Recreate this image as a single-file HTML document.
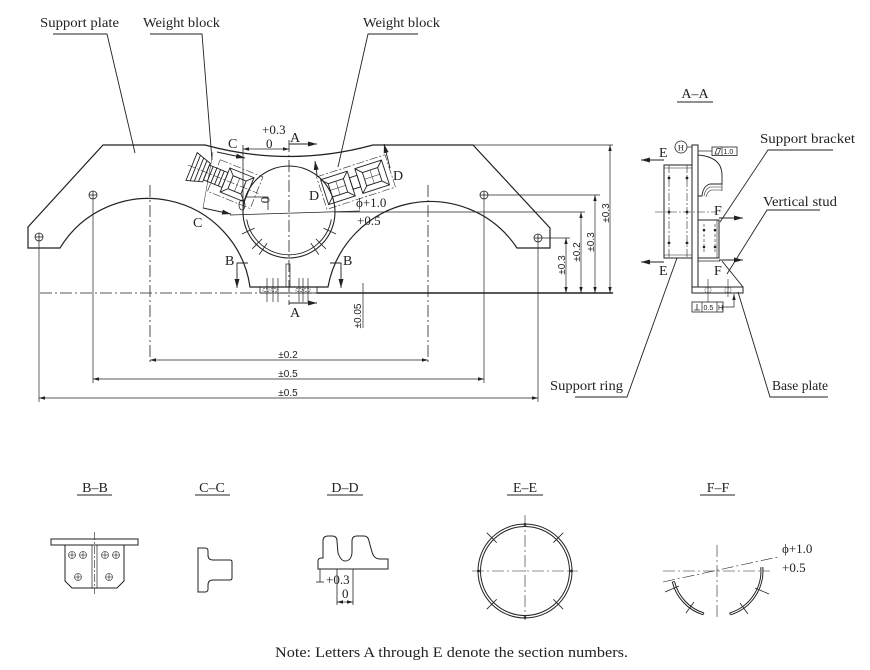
<!DOCTYPE html>
<html><head><meta charset="utf-8"><style>
html,body{margin:0;padding:0;background:#fff;}
svg{display:block;}
text{font-family:"Liberation Serif",serif;fill:#222;}
.s{font-family:"Liberation Sans",sans-serif;}
</style></head><body>
<svg width="870" height="670" viewBox="0 0 870 670" xmlns="http://www.w3.org/2000/svg">
<defs>
<marker id="ar" markerWidth="9" markerHeight="6" refX="9" refY="3" orient="auto-start-reverse" markerUnits="userSpaceOnUse"><path d="M0,0.5 L9,3 L0,5.5 z" fill="#222"/></marker>
<marker id="as" markerWidth="6" markerHeight="4" refX="6" refY="2" orient="auto-start-reverse" markerUnits="userSpaceOnUse"><path d="M0,0.3 L6,2 L0,3.7 z" fill="#222"/></marker>
</defs>

<g fill="none" stroke="#222" stroke-width="1">
<!-- labels leaders -->
<polyline points="53,34 107,34 135,153" stroke-width="0.9"/>
<polyline points="150,34 202,34 212,160" stroke-width="0.9"/>
<polyline points="418,34 368,34 338,167" stroke-width="0.9"/>

<!-- main outline -->
<path d="M103,145 L205,145 Q289,168 373,145 L473,145 L550,228 L550,248 L517,248 A104,104 0 0 0 328,287 L250,287 A103,103 0 0 0 60,248 L28,248 L28,227 Z" stroke-width="1.2"/>

<!-- centerlines -->
<g stroke-width="0.8" stroke-dasharray="12,3,2,3">
<line x1="150" y1="185" x2="150" y2="362"/>
<line x1="428" y1="185" x2="428" y2="362"/>
<line x1="289" y1="140" x2="289" y2="305"/>
<line x1="40" y1="293" x2="317" y2="293"/>
</g>
<line x1="317" y1="293" x2="613" y2="293" stroke-width="1.4"/>

<!-- holes -->
<g stroke-width="0.8">
<circle cx="39" cy="237" r="4"/><line x1="35" y1="237" x2="43" y2="237"/><line x1="39" y1="233" x2="39" y2="241"/>
<circle cx="93" cy="195" r="4"/><line x1="89" y1="195" x2="97" y2="195"/><line x1="93" y1="191" x2="93" y2="199"/>
<circle cx="484" cy="195" r="4"/><line x1="480" y1="195" x2="488" y2="195"/><line x1="484" y1="191" x2="484" y2="199"/>
<circle cx="538" cy="238" r="4"/><line x1="534" y1="238" x2="542" y2="238"/><line x1="538" y1="234" x2="538" y2="242"/>
</g>

<!-- extension lines -->
<g stroke-width="0.7">
<line x1="39" y1="241" x2="39" y2="402"/>
<line x1="93" y1="199" x2="93" y2="383"/>
<line x1="484" y1="199" x2="484" y2="383"/>
<line x1="538" y1="242" x2="538" y2="402"/>
<line x1="488" y1="195" x2="600" y2="195"/>
<line x1="335" y1="212" x2="585" y2="212"/>
<line x1="542" y1="238" x2="570" y2="238"/>
<line x1="473" y1="145" x2="613" y2="145"/>
<line x1="363" y1="283" x2="363" y2="328"/>
</g>
<!-- dims -->
<g stroke-width="0.7" marker-start="url(#as)" marker-end="url(#as)">
<line x1="566" y1="238" x2="566" y2="293"/>
<line x1="581" y1="212" x2="581" y2="293"/>
<line x1="595" y1="195" x2="595" y2="293"/>
<line x1="610" y1="145" x2="610" y2="293"/>
<line x1="150" y1="360" x2="428" y2="360"/>
<line x1="93" y1="379" x2="484" y2="379"/>
<line x1="39" y1="398" x2="538" y2="398"/>
<line x1="243" y1="149" x2="289" y2="149"/>
</g>

<!-- central circle -->
<circle cx="289" cy="212" r="46" stroke-width="1.1"/>
<path d="M246.7,219.5 A43,43 0 0 0 331.3,219.5" stroke-width="0.9"/>
<g stroke-width="0.8">
<line x1="254.6" y1="228.1" x2="241.9" y2="234"/>
<line x1="262.1" y1="238.9" x2="252.2" y2="248.8"/>
<line x1="267.2" y1="243.1" x2="259.2" y2="254.6"/>
<line x1="323.4" y1="228.1" x2="336.1" y2="234"/>
<line x1="315.9" y1="238.9" x2="325.8" y2="248.8"/>
<line x1="310.8" y1="243.1" x2="318.8" y2="254.6"/>
<line x1="230" y1="215" x2="360" y2="211"/>
<line x1="243" y1="145" x2="243" y2="212"/>
<polyline points="245,197 268,197 268,210"/>
<ellipse cx="242" cy="205" rx="3" ry="5"/>
</g>

<!-- bottom strip -->
<rect x="260" y="287" width="57" height="6" stroke-width="0.8"/>
<g stroke-width="0.5" stroke-dasharray="2,1">
<rect x="263" y="288.5" width="6" height="3"/><rect x="271" y="288.5" width="6" height="3"/>
<rect x="296" y="288.5" width="6" height="3"/><rect x="304" y="288.5" width="6" height="3"/>
</g>
<g stroke-width="0.7">
<line x1="267" y1="278" x2="267" y2="302"/><line x1="273" y1="278" x2="273" y2="302"/><line x1="278" y1="278" x2="278" y2="302"/>
<line x1="299" y1="278" x2="299" y2="302"/><line x1="303" y1="278" x2="303" y2="302"/><line x1="308" y1="278" x2="308" y2="302"/>
<rect x="286" y="264" width="4" height="23"/>
</g>

<!-- section marks -->
<g stroke-width="0.9">
<line x1="289" y1="144" x2="317" y2="144" marker-end="url(#ar)"/>
<line x1="289" y1="303" x2="317" y2="303" marker-end="url(#ar)"/>
<polyline points="248,263 237,263 237,288" marker-end="url(#ar)"/>
<polyline points="330,263 341,263 341,288" marker-end="url(#ar)"/>
<line x1="217" y1="152" x2="245" y2="158" marker-end="url(#ar)"/>
<line x1="203" y1="208" x2="231" y2="214" marker-end="url(#ar)"/>
<line x1="213" y1="152" x2="203" y2="208" stroke-width="0.5"/>
<line x1="317" y1="175" x2="315" y2="161" marker-end="url(#ar)"/>
<line x1="390" y1="168" x2="384" y2="144" marker-end="url(#ar)"/>
</g>

<!-- left weight block -->
<g transform="translate(225,180) rotate(22)" stroke-width="0.9">
<rect x="-12" y="-17" width="46" height="34" stroke-width="0.6" stroke-dasharray="8,2,2,2"/>
<polygon points="-36,-15 -20,-10 -20,10 -36,15"/>
<line x1="-32" y1="-13.8" x2="-32" y2="13.8"/><line x1="-28" y1="-12.5" x2="-28" y2="12.5"/><line x1="-24" y1="-11.3" x2="-24" y2="11.3"/>
<rect x="-20" y="-8" width="20" height="16"/>
<line x1="-16" y1="-8" x2="-16" y2="8"/><line x1="-12" y1="-8" x2="-12" y2="8"/><line x1="-8" y1="-8" x2="-8" y2="8"/><line x1="-4" y1="-8" x2="-4" y2="8"/>
<rect x="0" y="-13" width="26" height="26"/>
<rect x="6" y="-7" width="14" height="14"/>
<line x1="0" y1="-13" x2="6" y2="-7"/><line x1="26" y1="-13" x2="20" y2="-7"/><line x1="0" y1="13" x2="6" y2="7"/><line x1="26" y1="13" x2="20" y2="7"/>
<line x1="13" y1="-7" x2="13" y2="7" stroke-width="0.5"/>
<line x1="-40" y1="0" x2="36" y2="0" stroke-width="0.5" stroke-dasharray="8,2,2,2"/>
</g>

<!-- right weight block -->
<g transform="translate(356,182) rotate(-18)" stroke-width="0.9">
<rect x="-36" y="-17" width="72" height="34" stroke-width="0.6" stroke-dasharray="8,2,2,2"/>
<rect x="-33" y="-13" width="28" height="26"/>
<rect x="-27" y="-7" width="16" height="14"/>
<line x1="-33" y1="-13" x2="-27" y2="-7"/><line x1="-5" y1="-13" x2="-11" y2="-7"/><line x1="-33" y1="13" x2="-27" y2="7"/><line x1="-5" y1="13" x2="-11" y2="7"/>
<line x1="-19" y1="-7" x2="-19" y2="7" stroke-width="0.5"/><line x1="-27" y1="0" x2="-11" y2="0" stroke-width="0.5"/>
<rect x="-5" y="-6" width="8" height="12"/>
<rect x="3" y="-13" width="28" height="26"/>
<rect x="9" y="-7" width="16" height="14"/>
<line x1="3" y1="-13" x2="9" y2="-7"/><line x1="31" y1="-13" x2="25" y2="-7"/><line x1="3" y1="13" x2="9" y2="7"/><line x1="31" y1="13" x2="25" y2="7"/>
<line x1="17" y1="-7" x2="17" y2="7" stroke-width="0.5"/><line x1="9" y1="0" x2="25" y2="0" stroke-width="0.5"/>
</g>

<!-- A-A section -->
<line x1="677" y1="102" x2="713" y2="102" stroke-width="0.9"/>
<rect x="692" y="145" width="6" height="142" stroke-width="1"/>
<rect x="664" y="165" width="28" height="93" stroke-width="1"/>
<line x1="664" y1="168" x2="692" y2="168" stroke-width="0.6"/>
<line x1="664" y1="255" x2="692" y2="255" stroke-width="0.6"/>
<g stroke-width="0.6" stroke-dasharray="8,2,2,2">
<line x1="669" y1="165" x2="669" y2="258"/><line x1="687" y1="165" x2="687" y2="258"/>
<line x1="655" y1="212" x2="717" y2="212"/>
</g>
<g fill="#222" stroke="none">
<circle cx="669" cy="178" r="1.4"/><circle cx="669" cy="212" r="1.4"/><circle cx="669" cy="243" r="1.4"/>
<circle cx="687" cy="178" r="1.4"/><circle cx="687" cy="212" r="1.4"/><circle cx="687" cy="243" r="1.4"/>
<circle cx="704" cy="230" r="1.3"/><circle cx="704" cy="247" r="1.3"/><circle cx="715" cy="230" r="1.3"/><circle cx="715" cy="247" r="1.3"/>
</g>
<path d="M698,155 Q710,156 716,161 Q722,166 722,175 L722,184 L710,184 Q703,186 702,196 L698,196" stroke-width="0.9"/>
<path d="M722,187 L710,187 Q705,189 704,196 M722,190 L711,190 Q707,192 706,197 M722,184 L722,191" stroke-width="0.6"/>
<rect x="698" y="220" width="21" height="38" stroke-width="1"/>
<line x1="717" y1="220" x2="717" y2="258" stroke-width="0.6"/>
<g stroke-width="0.6" stroke-dasharray="3,2">
<line x1="704" y1="224" x2="704" y2="253"/><line x1="715" y1="224" x2="715" y2="253"/>
</g>
<line x1="698" y1="261" x2="720" y2="261" stroke-width="0.8"/>
<line x1="722" y1="261" x2="743" y2="287" stroke-width="0.9"/>
<rect x="692" y="287" width="51" height="6" stroke-width="1"/>
<g stroke-width="0.5" stroke-dasharray="1.5,1">
<rect x="705" y="288" width="6" height="4"/><rect x="725" y="288" width="6" height="4"/>
</g>
<g stroke-width="0.6">
<line x1="708" y1="279" x2="708" y2="302"/><line x1="728" y1="279" x2="728" y2="297"/>
</g>
<g stroke-width="0.9">
<line x1="664" y1="160" x2="641" y2="160" marker-end="url(#ar)"/>
<line x1="664" y1="262" x2="641" y2="262" marker-end="url(#ar)"/>
<line x1="719" y1="218" x2="743" y2="218" marker-end="url(#ar)"/>
<line x1="719" y1="260" x2="743" y2="260" marker-end="url(#ar)"/>
</g>
<circle cx="681" cy="147" r="6" stroke-width="0.8"/>
<line x1="687" y1="147" x2="692" y2="147" stroke-width="0.7"/>
<line x1="698" y1="151" x2="712" y2="151" stroke-width="0.7"/>
<rect x="712" y="147" width="25" height="8.5" stroke-width="0.8"/>
<line x1="722" y1="147" x2="722" y2="155.5" stroke-width="0.7"/>
<polygon points="715,154 717,148.5 720.5,148.5 718.5,154" stroke-width="0.7"/>
<rect x="692" y="302" width="31" height="10" stroke-width="0.8"/>
<line x1="702" y1="302" x2="702" y2="312" stroke-width="0.7"/>
<line x1="717" y1="302" x2="717" y2="312" stroke-width="0.7"/>
<path d="M697,304 L697,310 M694,310 L700,310" stroke-width="0.8"/>
<polyline points="723,307 734,307 734,294" stroke-width="0.7" marker-end="url(#as)"/>
<!-- leaders A-A -->
<g stroke-width="0.9">
<polyline points="833,150 768,150 720,222"/>
<polyline points="820,210 767,210 727,274"/>
<polyline points="575,397 627,397 677,258"/>
<polyline points="828,397 770,397 738,292"/>
</g>

<!-- section titles underlines -->
<g stroke-width="0.9">
<line x1="77" y1="495" x2="112" y2="495"/>
<line x1="195" y1="495" x2="230" y2="495"/>
<line x1="327" y1="495" x2="363" y2="495"/>
<line x1="507" y1="495" x2="543" y2="495"/>
<line x1="700" y1="495" x2="735" y2="495"/>
</g>

<!-- B-B -->
<rect x="51" y="539" width="87" height="6" stroke-width="1"/>
<path d="M65,545 L65,581 L72,588 L117,588 L124,581 L124,545" stroke-width="1"/>
<line x1="92" y1="545" x2="92" y2="588" stroke-width="0.7"/>
<line x1="97" y1="545" x2="97" y2="588" stroke-width="0.7"/>
<line x1="94.5" y1="532" x2="94.5" y2="594" stroke-width="0.6" stroke-dasharray="8,2,2,2"/>
<g stroke-width="0.6">
<circle cx="72" cy="555" r="3.5"/><line x1="68.5" y1="555" x2="75.5" y2="555"/><line x1="72" y1="551.5" x2="72" y2="558.5"/>
<circle cx="83" cy="555" r="3.5"/><line x1="79.5" y1="555" x2="86.5" y2="555"/><line x1="83" y1="551.5" x2="83" y2="558.5"/>
<circle cx="105" cy="555" r="3.5"/><line x1="101.5" y1="555" x2="108.5" y2="555"/><line x1="105" y1="551.5" x2="105" y2="558.5"/>
<circle cx="116" cy="555" r="3.5"/><line x1="112.5" y1="555" x2="119.5" y2="555"/><line x1="116" y1="551.5" x2="116" y2="558.5"/>
<circle cx="78" cy="577" r="3.5"/><line x1="74.5" y1="577" x2="81.5" y2="577"/><line x1="78" y1="573.5" x2="78" y2="580.5"/>
<circle cx="109" cy="577" r="3.5"/><line x1="105.5" y1="577" x2="112.5" y2="577"/><line x1="109" y1="573.5" x2="109" y2="580.5"/>
</g>

<!-- C-C -->
<path d="M198,548 L205,548 Q208,548 208,551 L208,555 Q208,560 213,560 L230,560 Q232,560 232,562 L232,578 Q232,580 230,580 L213,580 Q208,580 208,585 L208,589 Q208,592 205,592 L198,592 Z" stroke-width="1"/>

<!-- D-D -->
<path d="M318,569 L318,561 Q318,558 322,558 L323,558 L323,541 Q323,536 328,536 L332,536 Q337,536 337,541 L338,553 Q341,561 345,561 Q351,561 352,553 L352,541 Q352,536 357,536 L364,536 Q368,536 369,541 L372,552 Q374,559 380,559 L388,559 L388,569 Z" stroke-width="1"/>
<g stroke-width="0.8">
<line x1="320" y1="569" x2="320" y2="582"/><line x1="316" y1="582" x2="324" y2="582"/>
<line x1="337" y1="569" x2="337" y2="605"/><line x1="353" y1="569" x2="353" y2="605"/>
</g>
<line x1="337" y1="602" x2="353" y2="602" stroke-width="0.7" marker-start="url(#as)" marker-end="url(#as)"/>

<!-- E-E -->
<circle cx="525" cy="571" r="47" stroke-width="1"/>
<circle cx="525" cy="571" r="44.5" stroke-width="1"/>
<g stroke-width="0.6" stroke-dasharray="12,3,2,3">
<line x1="472" y1="571" x2="578" y2="571"/>
<line x1="525" y1="515" x2="525" y2="620"/>
</g>
<g stroke-width="0.8">
<line x1="496.7" y1="542.7" x2="486.8" y2="532.8"/>
<line x1="553.3" y1="542.7" x2="563.2" y2="532.8"/>
<line x1="496.7" y1="599.3" x2="486.8" y2="609.2"/>
<line x1="553.3" y1="599.3" x2="563.2" y2="609.2"/>
</g>
<g fill="#222" stroke="none">
<circle cx="525" cy="524.5" r="1.4"/><circle cx="525" cy="617.5" r="1.4"/><circle cx="478.5" cy="571" r="1.4"/><circle cx="571.5" cy="571" r="1.4"/>
</g>

<!-- F-F -->
<g stroke-width="0.6" stroke-dasharray="12,3,2,3">
<line x1="717" y1="545" x2="717" y2="620"/>
<line x1="663" y1="571" x2="770" y2="571"/>
<line x1="663" y1="582" x2="778" y2="557"/>
</g>
<path d="M672.3,582 A46,46 0 0 0 703,614.8" stroke-width="1"/>
<path d="M674.5,581.5 A44,44 0 0 0 704,613" stroke-width="1"/>
<line x1="672.3" y1="582" x2="674.5" y2="581.5" stroke-width="0.8"/>
<line x1="703" y1="614.8" x2="704" y2="613" stroke-width="0.8"/>
<path d="M730.5,614.8 A46,46 0 0 0 762.8,567" stroke-width="1"/>
<path d="M729.5,613 A44,44 0 0 0 760.8,567.2" stroke-width="1"/>
<line x1="730.5" y1="614.8" x2="729.5" y2="613" stroke-width="0.8"/>
<g stroke-width="0.8">
<line x1="679" y1="586" x2="665" y2="592"/>
<line x1="694" y1="602" x2="686" y2="613"/>
<line x1="755" y1="588" x2="769" y2="594"/>
<line x1="740" y1="603" x2="748" y2="614"/>
</g>
</g>

<!-- TEXT -->
<g font-size="13.5">
<text x="40" y="27" textLength="79" lengthAdjust="spacingAndGlyphs">Support plate</text>
<text x="143" y="27" textLength="77" lengthAdjust="spacingAndGlyphs">Weight block</text>
<text x="363" y="27" textLength="77" lengthAdjust="spacingAndGlyphs">Weight block</text>
<text x="760" y="143" textLength="95" lengthAdjust="spacingAndGlyphs">Support bracket</text>
<text x="763" y="206" textLength="74" lengthAdjust="spacingAndGlyphs">Vertical stud</text>
<text x="550" y="390" textLength="73" lengthAdjust="spacingAndGlyphs">Support ring</text>
<text x="772" y="390" textLength="56" lengthAdjust="spacingAndGlyphs">Base plate</text>
</g>
<g font-size="14">
<text x="695" y="98" text-anchor="middle">A–A</text>
<text x="95" y="492" text-anchor="middle">B–B</text>
<text x="212" y="492" text-anchor="middle">C–C</text>
<text x="345" y="492" text-anchor="middle">D–D</text>
<text x="525" y="492" text-anchor="middle">E–E</text>
<text x="718" y="492" text-anchor="middle">F–F</text>
<text x="290" y="142">A</text>
<text x="290" y="317">A</text>
<text x="228" y="148">C</text>
<text x="193" y="227">C</text>
<text x="309" y="200">D</text>
<text x="393" y="180">D</text>
<text x="225" y="265">B</text>
<text x="343" y="265">B</text>
<text x="659" y="157">E</text>
<text x="659" y="275">E</text>
<text x="714" y="215">F</text>
<text x="714" y="275">F</text>
</g>
<g font-size="13">
<text x="262" y="134">+0.3</text>
<text x="266" y="148">0</text>
<text x="356" y="207">ϕ+1.0</text>
<text x="357" y="225">+0.5</text>
<text transform="translate(261,200) rotate(90)" text-anchor="middle">0</text>
<text x="326" y="584">+0.3</text>
<text x="342" y="598">0</text>
<text x="782" y="553">ϕ+1.0</text>
<text x="782" y="572">+0.5</text>
</g>
<text x="681" y="150.5" font-size="8.5" text-anchor="middle">H</text>
<g class="s" font-size="10">
<text class="s" x="288" y="358" text-anchor="middle">±0.2</text>
<text class="s" x="288" y="377" text-anchor="middle">±0.5</text>
<text class="s" x="288" y="396" text-anchor="middle">±0.5</text>
<text class="s" transform="translate(565,265) rotate(-90)" text-anchor="middle">±0.3</text>
<text class="s" transform="translate(580,252) rotate(-90)" text-anchor="middle">±0.2</text>
<text class="s" transform="translate(594,242) rotate(-90)" text-anchor="middle">±0.3</text>
<text class="s" transform="translate(609,213) rotate(-90)" text-anchor="middle">±0.3</text>
<text class="s" transform="translate(361,316) rotate(-90)" text-anchor="middle">±0.05</text>
</g>
<g class="s" font-size="7">
<text class="s" x="723.5" y="154">1.0</text>
<text class="s" x="703.5" y="310">0.5</text>
<text class="s" x="718" y="310">H</text>
</g>
<text x="275" y="657" font-size="14.5" textLength="353" lengthAdjust="spacingAndGlyphs">Note: Letters A through E denote the section numbers.</text>
</svg>
</body></html>
